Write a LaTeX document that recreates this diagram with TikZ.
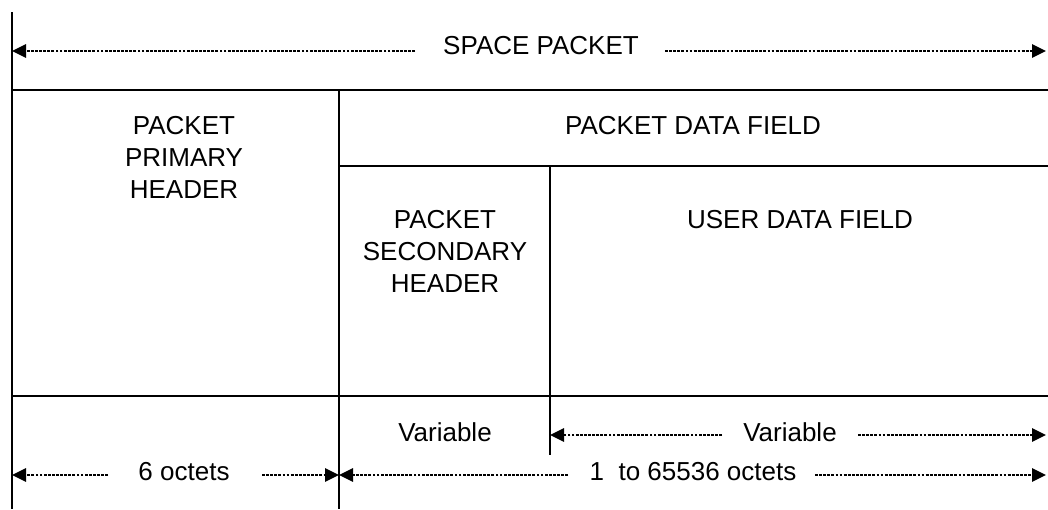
\documentclass[tikz,border=0pt]{standalone}
\usepackage{fontspec}
\setmainfont{Liberation Sans}
\usetikzlibrary{arrows.meta}
\begin{document}
\begin{tikzpicture}[x=1pt,y=-1pt,
  frame/.style={line width=2.5pt},
  dim/.style={line width=2.8pt, dash pattern=on 2.8pt off 1.3pt,
    -{Triangle[length=14pt,width=13pt]}},
  lbl/.style={font=\fontsize{26}{32}\selectfont, inner sep=0pt, align=center}]
\useasboundingbox (0,0) rectangle (1048,509);
% frame lines
\coordinate (tl) at (12,12);
\coordinate (bl) at (12,509);
\draw[frame] (tl) -- (bl);
\draw[frame] (12,90) -- (1048,90);
\draw[frame] (339,90) -- (339,509);
\draw[frame] (339,166) -- (1048,166);
\draw[frame] (550,166) -- (550,455);
\draw[frame] (12,396) -- (1048,396);
% labels
\node[lbl, anchor=base] (sp) at (541,54) {SPACE PACKET};
\node[lbl, anchor=north] (pph) at (184,116) {PACKET\\PRIMARY\\HEADER};
\node[lbl, anchor=base] (pdf) at (693,134) {PACKET DATA FIELD};
\node[lbl, anchor=north] (psh) at (445,210) {PACKET\\SECONDARY\\HEADER};
\node[lbl, anchor=base] (udf) at (800,228) {USER DATA FIELD};
\node[lbl, anchor=base] (var1) at (445,441) {Variable};
\node[lbl, anchor=base] (var2) at (790,441) {Variable};
\node[lbl, anchor=base] (six) at (184,480) {6 octets};
\node[lbl, anchor=base] (rng) at (693,480) {1\ \ to 65536 octets};
% dimension arrow ends
\coordinate (spL) at (12,51);   \coordinate (spA) at (415,51);
\coordinate (spB) at (665,51);  \coordinate (spR) at (1046,51);
\coordinate (vL) at (550,435);  \coordinate (vA) at (722,435);
\coordinate (vB) at (858,435);  \coordinate (vR) at (1046,435);
\coordinate (sL) at (12,475);   \coordinate (sA) at (108,475);
\coordinate (sB) at (262,475);  \coordinate (sR) at (339,475);
\coordinate (rL) at (339,475);  \coordinate (rA) at (568,475);
\coordinate (rB) at (815,475);  \coordinate (rR) at (1046,475);
\draw[dim] (spA) -- (spL);
\draw[dim] (spB) -- (spR);
\draw[dim] (vA) -- (vL);
\draw[dim] (vB) -- (vR);
\draw[dim] (sA) -- (sL);
\draw[dim] (sB) -- (sR);
\draw[dim] (rA) -- (rL);
\draw[dim] (rB) -- (rR);
\end{tikzpicture}
\end{document}
